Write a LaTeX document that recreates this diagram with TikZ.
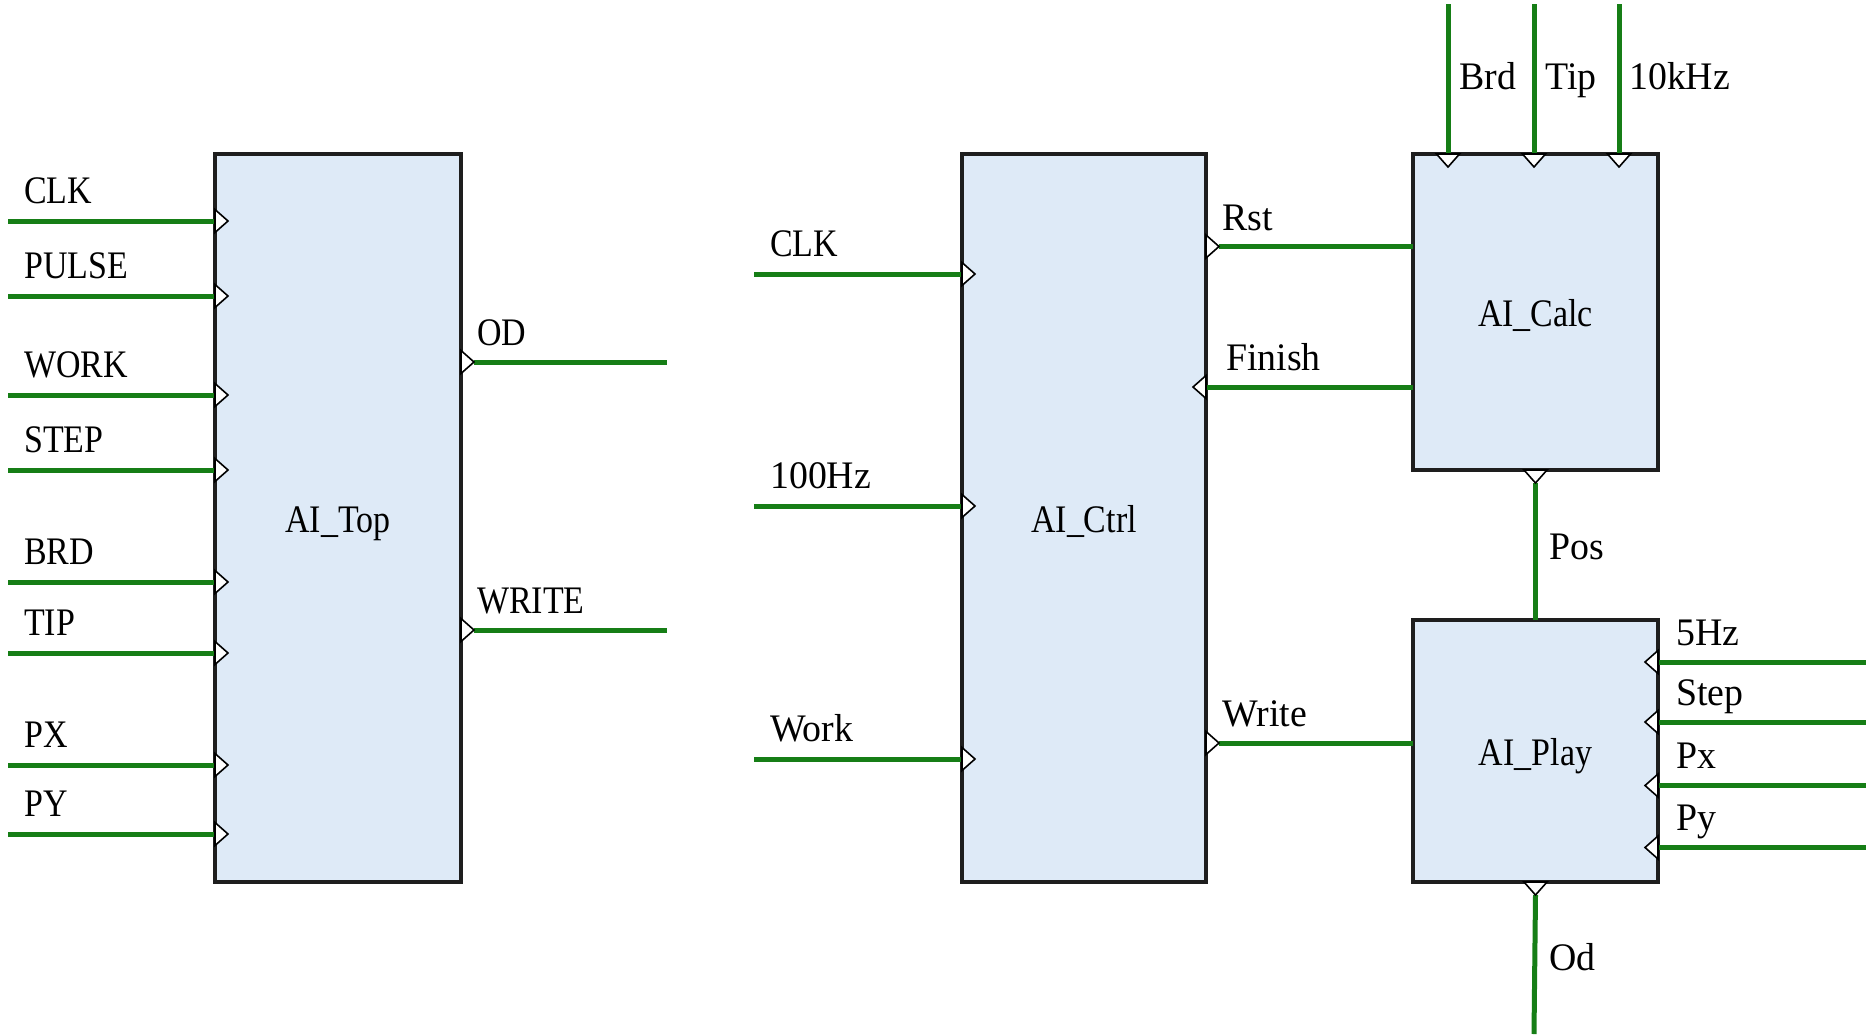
\documentclass[tikz,border=0pt]{standalone}
\usepackage{fontspec}
\setmainfont{Liberation Serif}[FakeStretch=0.97]
\newfontfamily\narrowfont{Liberation Serif}[FakeStretch=0.87]
\usetikzlibrary{calc}
\definecolor{boxblue}{RGB}{222,234,247}
\definecolor{wiregreen}{RGB}{22,126,22}
\definecolor{boxline}{RGB}{30,30,30}
\newcommand\portR[1]{\draw[ptri] ($(#1)+(0,-11.5)$) -- ++(13,11.5) -- ++(-13,11.5) -- cycle;}
\newcommand\portL[1]{\draw[ptri] ($(#1)+(0,-11.5)$) -- ++(-13,11.5) -- ++(13,11.5) -- cycle;}
\newcommand\portD[1]{\draw[ptri] ($(#1)+(-11.5,0)$) -- ++(11.5,13) -- ++(11.5,-13) -- cycle;}
\begin{document}
\begin{tikzpicture}[x=1pt,y=-1pt,
  blk/.style={draw=boxline, line width=4pt, fill=boxblue, inner sep=0pt, outer sep=0pt, anchor=north west, text height=31pt, text depth=2pt, font=\narrowfont\fontsize{39}{42}\selectfont},
  wire/.style={draw=wiregreen, line width=5pt},
  lbl/.style={font=\fontsize{39}{42}\selectfont, anchor=base west, inner sep=0pt},
  capl/.style={lbl, font=\narrowfont\fontsize{39}{42}\selectfont},
  ptri/.style={draw=black, line width=1.6pt, fill=white, line join=miter}]
\useasboundingbox (0,0) rectangle (1866,1034);

% ---------- blocks ----------
\node[blk, minimum width=246pt, minimum height=728pt] (top) at (215,154) {AI\_Top};
\node[blk, minimum width=244pt, minimum height=728pt] (ctrl) at (962,154) {AI\_Ctrl};
\node[blk, minimum width=245pt, minimum height=316pt] (calc) at (1413,154) {AI\_Calc};
\node[blk, minimum width=245pt, minimum height=262pt] (play) at (1413,620) {AI\_Play};

% ---------- AI_Top ----------
\coordinate (tClk) at (8,221);
\coordinate (tPulse) at (8,296);
\coordinate (tWork) at (8,395);
\coordinate (tStep) at (8,470);
\coordinate (tBrd) at (8,582);
\coordinate (tTip) at (8,653);
\coordinate (tPx) at (8,765);
\coordinate (tPy) at (8,834);
\coordinate (tOd) at (667,362);
\coordinate (tWrite) at (667,630);
\foreach \c/\t in {tClk/CLK,tPulse/PULSE,tWork/WORK,tStep/STEP,tBrd/BRD,tTip/TIP,tPx/PX,tPy/PY}{
  \draw[wire] (\c) -- (\c -| top.west);
  \node[capl] (l\c) at ($(\c)+(16,-18)$) {\t};
}
\draw[wire] ($(tOd -| top.east)+(13,0)$) -- (tOd);
\draw[wire] ($(tWrite -| top.east)+(13,0)$) -- (tWrite);
\node[capl] (lOd) at (477,345) {OD};
\node[capl] (lWrite) at (477,613) {WRITE};
\foreach \c in {tClk,tPulse,tWork,tStep,tBrd,tTip,tPx,tPy}{\portR{\c -| top.west}}
\portR{tOd -| top.east}
\portR{tWrite -| top.east}

% ---------- AI_Ctrl ----------
\coordinate (cClk) at (754,274);
\coordinate (cHz) at (754,506);
\coordinate (cWork) at (754,759);
\draw[wire] (cClk) -- (cClk -| ctrl.west);
\draw[wire] (cHz) -- (cHz -| ctrl.west);
\draw[wire] (cWork) -- (cWork -| ctrl.west);
\node[capl] (lcClk) at ($(cClk)+(16,-18)$) {CLK};
\node[lbl] (lcHz) at ($(cHz)+(16,-18)$) {100Hz};
\node[lbl] (lcWork) at ($(cWork)+(16,-18)$) {Work};
\foreach \c in {cClk,cHz,cWork}{\portR{\c -| ctrl.west}}
\coordinate (cRst) at (1206,246.5);
\coordinate (cFin) at (1206,387);
\coordinate (cWr) at (1206,743);
\draw[wire] ($(cRst)+(13,0)$) -- (cRst -| calc.west);
\draw[wire] (cFin) -- (cFin -| calc.west);
\draw[wire] ($(cWr)+(13,0)$) -- (cWr -| play.west);
\node[lbl] (lRst) at (1222,230) {Rst};
\node[lbl] (lFin) at (1226,370) {Finish};
\node[lbl] (lWr) at (1222,726) {Write};
\portR{cRst}
\portL{cFin}
\portR{cWr}

% ---------- AI_Calc ----------
\coordinate (aBrd) at (1448,4);
\coordinate (aTip) at (1534,4);
\coordinate (aK) at (1619,4);
\foreach \c in {aBrd,aTip,aK}{\draw[wire] (\c) -- (\c |- calc.north);}
\node[lbl] (lBrd) at (1459,89) {Brd};
\node[lbl] (lTip) at (1545,89) {Tip};
\node[lbl] (lK) at (1629,89) {10kHz};
\foreach \c in {aBrd,aTip,aK}{\portD{\c |- calc.north}}
\draw[wire] ($(calc.south)+(0,13)$) -- (play.north);
\node[lbl] (lPos) at (1549,559) {Pos};
\portD{calc.south}

% ---------- AI_Play ----------
\coordinate (p5) at (1866,662);
\coordinate (pStep) at (1866,722);
\coordinate (pPx) at (1866,785.5);
\coordinate (pPy) at (1866,847.5);
\foreach \c in {p5,pStep,pPx,pPy}{\draw[wire] (\c) -- (\c -| play.east);}
\node[lbl] (l5) at (1676,645) {5Hz};
\node[lbl] (lStep) at (1676,705) {Step};
\node[lbl] (lPx) at (1676,768) {Px};
\node[lbl] (lPy) at (1676,830) {Py};
\foreach \c in {p5,pStep,pPx,pPy}{\portL{\c -| play.east}}
\coordinate (pOd) at (1534,1034);
\draw[wire] ($(play.south)+(0,13)$) -- (pOd);
\node[lbl] (lOdp) at (1549,970) {Od};
\portD{play.south}
\end{tikzpicture}
\end{document}
